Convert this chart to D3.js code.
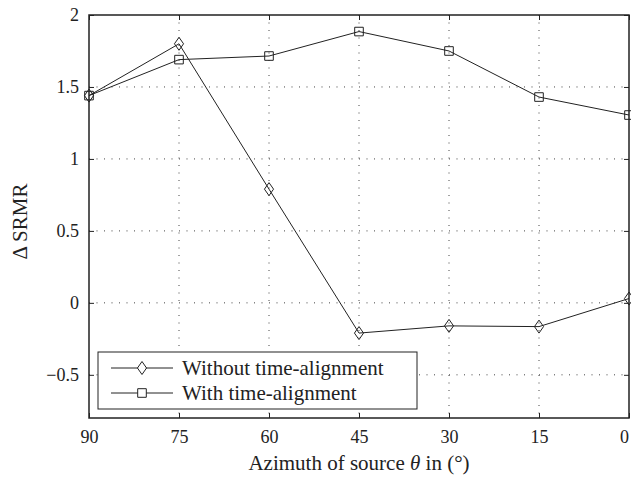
<!DOCTYPE html>
<html><head><meta charset="utf-8">
<script src="https://cdn.jsdelivr.net/npm/d3@7"></script>
<style>
body{margin:0;background:#fff;}
svg text{font-family:"Liberation Serif","DejaVu Serif",serif !important;fill:#222;}
</style></head>
<body><svg id="c" width="631" height="477"></svg>
<script>
const angles = [90, 75, 60, 45, 30, 15, 0];
const withoutAlign = [1.44, 1.80, 0.79, -0.21, -0.16, -0.165, 0.03];
const withAlign = [1.44, 1.69, 1.715, 1.885, 1.75, 1.43, 1.305];
const xTicks = [90, 75, 60, 45, 30, 15, 0];
const yTicks = [-0.5, 0, 0.5, 1, 1.5, 2];
const seriesNames = ["Without time-alignment", "With time-alignment"];

const svg = d3.select("#c");
const L = 89, R = 629, T = 15, B = 418;
const x = d3.scaleLinear().domain([90, 0]).range([L, R]);
const y = d3.scaleLinear().domain([-0.8, 2]).range([B, T]);
const SERIF = "'Liberation Serif', 'DejaVu Serif', serif";

// grid
const g = svg.append("g");
g.selectAll(".gx").data(xTicks.filter(d => d !== 90 && d !== 0)).enter().append("line")
  .attr("x1", d => x(d)).attr("x2", d => x(d)).attr("y1", T).attr("y2", B)
  .attr("stroke", "#444").attr("stroke-width", 1).attr("stroke-dasharray", "1,6.5");
g.selectAll(".gy").data(yTicks.filter(d => d !== 2)).enter().append("line")
  .attr("y1", d => y(d)).attr("y2", d => y(d)).attr("x1", L).attr("x2", R)
  .attr("stroke", "#444").attr("stroke-width", 1).attr("stroke-dasharray", "1,6.5");

// axes
const fmt = d => d < 0 ? "\u2212" + Math.abs(d) : String(d);
const xAxis = svg.append("g").attr("transform", `translate(0,${B})`)
  .call(d3.axisBottom(x).tickValues(xTicks).tickSizeInner(-5).tickSizeOuter(0).tickPadding(12));
const yAxis = svg.append("g").attr("transform", `translate(${L},0)`)
  .call(d3.axisLeft(y).tickValues(yTicks).tickFormat(fmt).tickSizeInner(-5).tickSizeOuter(0).tickPadding(10));
svg.append("g").attr("transform", `translate(0,${T})`)
  .call(d3.axisTop(x).tickValues(xTicks).tickSizeInner(-5).tickSizeOuter(0).tickFormat(""));
svg.append("g").attr("transform", `translate(${R},0)`)
  .call(d3.axisRight(y).tickValues(yTicks).tickSizeInner(-5).tickSizeOuter(0).tickFormat(""));
svg.selectAll(".domain").attr("stroke", "none");
svg.selectAll("g").attr("font-family", SERIF).attr("font-size", 18);
svg.selectAll(".tick line").attr("stroke", "#222").attr("stroke-width", 1);
svg.selectAll(".tick text").style("font-family", SERIF).style("font-size", "18px").attr("fill", "#222");
xAxis.selectAll(".tick text").filter(d => d === 0).attr("dx", "-5");

svg.append("rect").attr("x", L).attr("y", T).attr("width", R - L).attr("height", B - T)
  .attr("fill", "none").attr("stroke", "#222").attr("stroke-width", 1.5);

// lines
const line = d3.line().x((d, i) => x(angles[i])).y(d => y(d));
const diamond = (cx, cy, r) => `M${cx},${cy - r}L${cx + r * 0.7},${cy}L${cx},${cy + r}L${cx - r * 0.7},${cy}Z`;
const square = (cx, cy, r) => `M${cx - r},${cy - r}h${2 * r}v${2 * r}h${-2 * r}Z`;

[[withAlign, "sq"], [withoutAlign, "di"]].forEach(([data, m]) => {
  svg.append("path").attr("d", line(data)).attr("fill", "none").attr("stroke", "#222").attr("stroke-width", 1);
  svg.selectAll(null).data(data).enter().append("path")
    .attr("d", (d, i) => m === "sq" ? square(x(angles[i]), y(d), 4.3) : diamond(x(angles[i]), y(d), 6.5))
    .attr("fill", "none").attr("stroke", "#222").attr("stroke-width", 1);
});

// legend
const lg = svg.append("g");
lg.append("rect").attr("x", 98).attr("y", 352).attr("width", 319).attr("height", 57)
  .attr("fill", "#fff").attr("stroke", "#222").attr("stroke-width", 1);
seriesNames.forEach((name, i) => {
  const cy = 368 + i * 25;
  lg.append("line").attr("x1", 111).attr("x2", 173).attr("y1", cy).attr("y2", cy).attr("stroke", "#222").attr("stroke-width", 1);
  lg.append("path").attr("d", i === 0 ? diamond(142, cy, 6.5) : square(142, cy, 4.3))
    .attr("fill", "#fff").attr("stroke", "#222").attr("stroke-width", 1);
  lg.append("text").attr("x", 182).attr("y", cy).attr("dy", "0.35em").style("font-size", "21px").text(name);
});

// axis labels
const xl = svg.append("text").attr("x", (L + R) / 2).attr("y", 470).attr("text-anchor", "middle").style("font-size", "21px");
xl.append("tspan").text("Azimuth of source ");
xl.append("tspan").style("font-style", "italic").text("\u03B8");
xl.append("tspan").text(" in (\u00B0)");

svg.append("text").attr("transform", `translate(27,${(T + B) / 2 + 5}) rotate(-90)`)
  .attr("text-anchor", "middle").style("font-size", "21px").text("\u0394 SRMR");
</script></body></html>
